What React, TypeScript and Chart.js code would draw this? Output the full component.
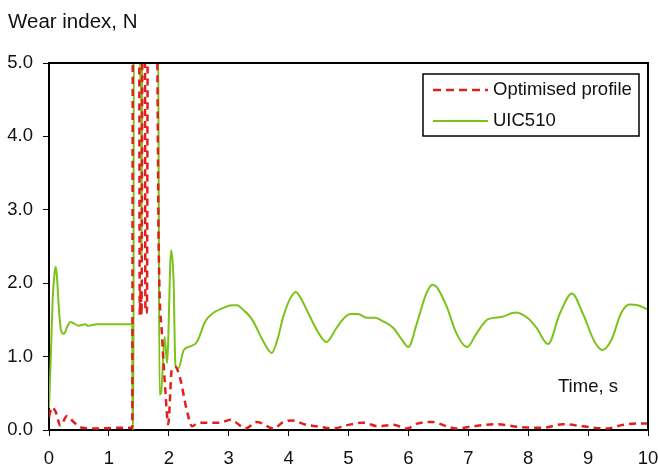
import React, { useEffect, useRef } from "react";
import { Chart, registerables } from "chart.js";

Chart.register(...registerables);

// UIC510 series
const uicTime = [0, 0.03, 0.06, 0.09, 0.11, 0.13, 0.16, 0.2, 0.25, 0.3, 0.36, 0.42, 0.5, 0.6, 0.66, 0.72, 0.8, 1.39, 1.395, 1.41, 1.415, 1.52, 1.525, 1.53, 1.535, 1.54, 1.545, 1.555, 1.82, 1.845, 1.87, 1.93, 1.97, 2.04, 2.08, 2.11, 2.16, 2.25, 2.36, 2.47, 2.61, 2.75, 2.9, 3.05, 3.14, 3.25, 3.33, 3.41, 3.55, 3.72, 3.82, 3.91, 4.02, 4.12, 4.2, 4.33, 4.48, 4.63, 4.8, 4.92, 5.03, 5.16, 5.3, 5.44, 5.58, 5.75, 5.89, 6.0, 6.14, 6.3, 6.4, 6.47, 6.64, 6.8, 6.98, 7.14, 7.33, 7.55, 7.79, 8.0, 8.14, 8.33, 8.53, 8.73, 8.91, 9.11, 9.24, 9.39, 9.55, 9.69, 9.83, 10.0];
const uicWear = [0.3, 1.0, 1.75, 2.12, 2.22, 2.12, 1.72, 1.36, 1.31, 1.4, 1.47, 1.45, 1.42, 1.44, 1.42, 1.43, 1.44, 1.44, 0, 0, 5.6, 5.6, 4.7, 5.6, 4.6, 5.6, 2.34, 5.6, 5.6, 0.48, 0.5, 1.27, 0.91, 2.45, 2.02, 0.89, 0.84, 1.09, 1.14, 1.2, 1.48, 1.6, 1.66, 1.7, 1.7, 1.63, 1.57, 1.48, 1.25, 1.05, 1.25, 1.54, 1.78, 1.88, 1.8, 1.59, 1.35, 1.2, 1.39, 1.52, 1.58, 1.58, 1.53, 1.53, 1.48, 1.39, 1.23, 1.13, 1.45, 1.86, 1.98, 1.95, 1.68, 1.32, 1.13, 1.32, 1.51, 1.54, 1.6, 1.52, 1.39, 1.17, 1.59, 1.86, 1.59, 1.2, 1.09, 1.23, 1.59, 1.71, 1.7, 1.64];

// Optimised profile series
const optTime = [0, 0.05, 0.11, 0.19, 0.3, 0.41, 0.55, 0.8, 1.1, 1.39, 1.4, 1.505, 1.515, 1.53, 1.545, 1.56, 1.6, 1.61, 1.635, 1.65, 1.8, 1.83, 1.89, 1.94, 1.99, 2.05, 2.11, 2.19, 2.3, 2.39, 2.47, 2.6, 2.86, 3.03, 3.11, 3.28, 3.47, 3.75, 3.91, 4.05, 4.3, 4.47, 4.75, 5.0, 5.25, 5.5, 5.75, 5.97, 6.16, 6.4, 6.64, 6.8, 7.08, 7.47, 7.86, 8.25, 8.58, 8.91, 9.3, 9.58, 9.86, 10.0];
const optWear = [0.18, 0.31, 0.25, 0.06, 0.19, 0.11, 0.03, 0.02, 0.03, 0.03, 5.6, 5.6, 1.57, 1.9, 1.57, 5.6, 5.6, 1.6, 1.6, 5.6, 5.6, 2.57, 1.25, 0.57, 0.08, 0.82, 0.86, 0.7, 0.27, 0.05, 0.09, 0.1, 0.1, 0.14, 0.11, 0.02, 0.11, 0.02, 0.11, 0.13, 0.07, 0.05, 0.02, 0.07, 0.1, 0.05, 0.07, 0.02, 0.09, 0.11, 0.05, 0.02, 0.05, 0.08, 0.04, 0.03, 0.08, 0.05, 0.02, 0.07, 0.09, 0.09];

const seriesLabels = ["Optimised profile", "UIC510"];
const yTitle = "Wear index, N";
const xTitle = "Time, s";

const RED = "#e0201c";
const GREEN = "#7cc21a";
const FONT = "'Liberation Sans', Arial, sans-serif";

const decor = {
  id: "decor",
  afterDraw(chart: any) {
    const ctx = chart.ctx;
    const a = chart.chartArea;
    ctx.save();
    // frame top and right
    ctx.strokeStyle = "#000";
    ctx.lineWidth = 2;
    ctx.beginPath();
    ctx.moveTo(a.left, a.top);
    ctx.lineTo(a.right, a.top);
    ctx.lineTo(a.right, a.bottom);
    ctx.stroke();
    // title
    ctx.fillStyle = "#111";
    ctx.font = `20.5px ${FONT}`;
    ctx.textBaseline = "middle";
    ctx.textAlign = "left";
    ctx.fillText(yTitle, 8, 22);
    ctx.font = `18.5px ${FONT}`;
    ctx.fillText(xTitle, 558, 387);
    // legend
    const lx = 423, ly = 74, lw = 216, lh = 62;
    ctx.fillStyle = "#fff";
    ctx.fillRect(lx, ly, lw, lh);
    ctx.lineWidth = 1.5;
    ctx.strokeStyle = "#000";
    ctx.strokeRect(lx, ly, lw, lh);
    ctx.lineWidth = 2.5;
    ctx.strokeStyle = RED;
    ctx.setLineDash([8, 5]);
    ctx.beginPath();
    ctx.moveTo(433, 90);
    ctx.lineTo(488, 90);
    ctx.stroke();
    ctx.setLineDash([]);
    ctx.lineWidth = 2;
    ctx.strokeStyle = GREEN;
    ctx.beginPath();
    ctx.moveTo(433, 121);
    ctx.lineTo(488, 121);
    ctx.stroke();
    ctx.fillStyle = "#111";
    ctx.fillText(seriesLabels[0], 493, 90);
    ctx.fillText(seriesLabels[1], 493, 121);
    ctx.restore();
  },
};

export default function App() {
  const ref = useRef<HTMLCanvasElement>(null);
  useEffect(() => {
    document.body.style.margin = "0";
    const chart = new Chart(ref.current!, {
      type: "line",
      data: {
        datasets: [
          {
            label: seriesLabels[0],
            data: optTime.map((t, i) => ({ x: t, y: optWear[i] })),
            borderColor: RED,
            borderWidth: 2.5,
            borderDash: [7, 5],
            pointRadius: 0,
            cubicInterpolationMode: "monotone",
            clip: 0,
          },
          {
            label: seriesLabels[1],
            data: uicTime.map((t, i) => ({ x: t, y: uicWear[i] })),
            borderColor: GREEN,
            borderWidth: 2,
            pointRadius: 0,
            cubicInterpolationMode: "monotone",
            clip: 0,
          },
        ],
      },
      options: {
        animation: false,
        responsive: false,
        maintainAspectRatio: false,
        layout: { padding: { left: 0, top: 63, right: 10, bottom: 0 } },
        plugins: { legend: { display: false }, tooltip: { enabled: false } },
        scales: {
          x: {
            type: "linear",
            min: 0,
            max: 10,
            afterFit: (s: any) => { s.height = 37; s.paddingLeft = 0; s.paddingRight = 0; },
            ticks: { stepSize: 1, color: "#111", padding: 12, font: { size: 18.5, family: FONT }, maxRotation: 0 },
            grid: { display: true, drawOnChartArea: false, drawTicks: true, tickLength: 6, color: "#000" },
            border: { display: true, color: "#000", width: 2 },
          },
          y: {
            type: "linear",
            min: 0,
            max: 5,
            afterFit: (s: any) => { s.width = 49; s.paddingTop = 0; s.paddingBottom = 0; },
            ticks: { stepSize: 1, color: "#111", padding: 10, font: { size: 18.5, family: FONT }, callback: (v: any) => Number(v).toFixed(1) },
            grid: { display: true, drawOnChartArea: false, drawTicks: true, tickLength: 6, color: "#000" },
            border: { display: true, color: "#000", width: 2 },
          },
        },
      },
      plugins: [decor],
    });
    return () => chart.destroy();
  }, []);
  return (
    <div style={{ width: 658, height: 467 }}>
      <canvas ref={ref} width={658} height={467} style={{ width: 658, height: 467 }} />
    </div>
  );
}
